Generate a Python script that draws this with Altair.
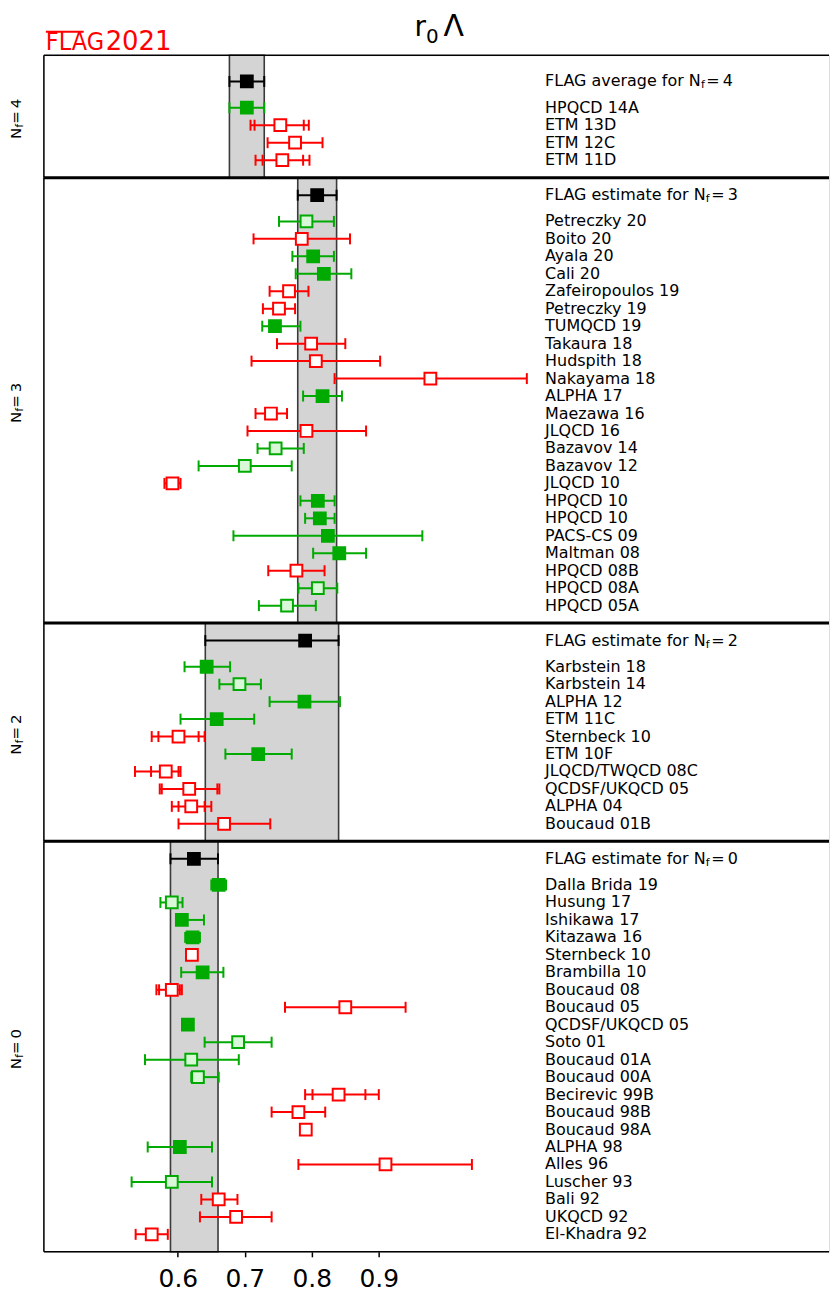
import altair as alt
import pandas as pd

FONT = "DejaVu Sans"

# ---------------- N_f = 4 ----------------
nf4_names = ["HPQCD 14A", "ETM 13D", "ETM 12C", "ETM 11D"]
nf4_val = [0.703, 0.753, 0.775, 0.756]
nf4_lo = [0.677, 0.7085, 0.734, 0.716]
nf4_hi = [0.729, 0.7955, 0.816, 0.7965]
nf4_ilo = [None, 0.7145, None, 0.7265]
nf4_ihi = [None, 0.788, None, 0.787]
nf4_sty = ["gf", "ro", "ro", "ro"]
nf4_flag = [0.703, 0.677, 0.729]

# ---------------- N_f = 3 ----------------
nf3_names = ["Petreczky 20", "Boito 20", "Ayala 20", "Cali 20", "Zafeiropoulos 19",
             "Petreczky 19", "TUMQCD 19", "Takaura 18", "Hudspith 18", "Nakayama 18",
             "ALPHA 17", "Maezawa 16", "JLQCD 16", "Bazavov 14", "Bazavov 12",
             "JLQCD 10", "HPQCD 10", "HPQCD 10", "PACS-CS 09", "Maltman 08",
             "HPQCD 08B", "HPQCD 08A", "HPQCD 05A"]
nf3_val = [0.792, 0.785, 0.802, 0.818, 0.766, 0.751, 0.745, 0.799, 0.806, 0.977,
           0.816, 0.739, 0.792, 0.746, 0.700, 0.592, 0.809, 0.812, 0.824, 0.841,
           0.777, 0.809, 0.763]
nf3_lo = [0.751, 0.713, 0.771, 0.776, 0.737, 0.727, 0.726, 0.748, 0.710, 0.834,
          0.787, 0.716, 0.704, 0.719, 0.631, 0.580, 0.783, 0.790, 0.683, 0.802,
          0.735, 0.780, 0.721]
nf3_hi = [0.833, 0.857, 0.833, 0.859, 0.795, 0.775, 0.783, 0.850, 0.902, 1.121,
          0.845, 0.763, 0.881, 0.788, 0.770, 0.604, 0.834, 0.834, 0.965, 0.881,
          0.819, 0.838, 0.806]
nf3_ilo = [None] * 23
nf3_ihi = [None] * 23
nf3_sty = ["go", "ro", "gf", "gf", "ro", "ro", "gf", "ro", "ro", "ro",
           "gf", "ro", "ro", "go", "go", "ro", "gf", "gf", "gf", "gf",
           "ro", "go", "go"]
nf3_flag = [0.808, 0.779, 0.837]

# ---------------- N_f = 2 ----------------
nf2_names = ["Karbstein 18", "Karbstein 14", "ALPHA 12", "ETM 11C", "Sternbeck 10",
             "ETM 10F", "JLQCD/TWQCD 08C", "QCDSF/UKQCD 05", "ALPHA 04", "Boucaud 01B"]
nf2_val = [0.643, 0.692, 0.789, 0.658, 0.601, 0.720, 0.582, 0.617, 0.620, 0.669]
nf2_lo = [0.610, 0.662, 0.737, 0.604, 0.561, 0.671, 0.536, 0.573, 0.591, 0.601]
nf2_hi = [0.678, 0.724, 0.842, 0.714, 0.640, 0.770, 0.604, 0.662, 0.650, 0.738]
nf2_ilo = [None, None, None, None, 0.571, None, 0.560, 0.576, 0.601, None]
nf2_ihi = [None, None, None, None, 0.631, None, 0.601, 0.659, 0.640, None]
nf2_sty = ["gf", "go", "gf", "gf", "ro", "gf", "ro", "ro", "ro", "ro"]
nf2_flag = [0.790, 0.641, 0.840]

# ---------------- N_f = 0 ----------------
nf0_names = ["Dalla Brida 19", "Husung 17", "Ishikawa 17", "Kitazawa 16", "Sternbeck 10",
             "Brambilla 10", "Boucaud 08", "Boucaud 05", "QCDSF/UKQCD 05", "Soto 01",
             "Boucaud 01A", "Boucaud 00A", "Becirevic 99B", "Boucaud 98B", "Boucaud 98A",
             "ALPHA 98", "Alles 96", "Luscher 93", "Bali 92", "UKQCD 92", "El-Khadra 92"]
nf0_val = [0.661, 0.591, 0.606, 0.622, 0.621, 0.637, 0.591, 0.850, 0.615, 0.690,
           0.620, 0.630, 0.840, 0.780, 0.791, 0.603, 0.910, 0.591, 0.661, 0.687, 0.561]
nf0_lo = [0.650, 0.574, 0.600, 0.611, 0.618, 0.605, 0.568, 0.760, 0.612, 0.640,
          0.551, 0.620, 0.790, 0.740, 0.788, 0.555, 0.780, 0.531, 0.635, 0.633, 0.537]
nf0_hi = [0.672, 0.607, 0.639, 0.633, 0.624, 0.668, 0.606, 0.940, 0.618, 0.740,
          0.691, 0.661, 0.900, 0.820, 0.794, 0.651, 1.039, 0.651, 0.689, 0.740, 0.585]
nf0_ilo = [None] * 6 + [0.572] + [None] * 5 + [0.801] + [None] * 8
nf0_ihi = [None] * 6 + [0.603] + [None] * 5 + [0.880] + [None] * 8
nf0_sty = ["gf", "go", "gf", "gf", "ro", "gf", "ro", "ro", "gf", "go",
           "go", "go", "ro", "ro", "ro", "gf", "ro", "go", "ro", "ro", "ro"]
nf0_flag = [0.624, 0.589, 0.660]

tick_values = [0.6, 0.7, 0.8, 0.9]

# ---------------- styling ----------------
GREEN = "#00aa00"
LGREEN = "#d8f8d8"
RED = "#ff0000"
STY = ["gf", "go", "ro", "k"]
STROKES = [GREEN, GREEN, RED, "#000000"]
FILLS = [GREEN, LGREEN, "#ffffff", "#000000"]

XMIN = 0.4
PX_PER_UNIT = 672.3
W = 788
XMAX = XMIN + W / PX_PER_UNIT
LABEL_X = 503
ROW_H = 17.54

# DejaVu Sans advance widths (per 1000 em) for composing sub-scripted labels
ADV = {' ': 318, 'A': 684, 'F': 575, 'G': 775, 'L': 557, 'N': 748, 'a': 613, 'e': 615,
       'f': 352, 'g': 635, 'i': 278, 'm': 974, 'o': 612, 'r': 411, 's': 521, 't': 392,
       'v': 592, '=': 838, '0': 636, '2': 636, '3': 636, '4': 636, '\u2009': 200}


def tw(s, size):
    return sum(ADV.get(c, 600) for c in s) / 1000.0 * size


def one():
    return alt.Chart(pd.DataFrame({"k": [0]}))


def panel(names, val, lo, hi, ilo, ihi, sty, flag, nf, word, is_top, is_bottom):
    n = len(names)
    ytop = -1.5 if is_top else -1.0
    ybot = n + 1.5
    H = round((ybot - ytop) * ROW_H)
    df = pd.DataFrame({
        "name": [""] + names,
        "v": [flag[0]] + val,
        "lo": [flag[1]] + lo,
        "hi": [flag[2]] + hi,
        "ilo": [None] + ilo,
        "ihi": [None] + ihi,
        "sty": ["k"] + sty,
        "row": [0.0] + [1.5 + i for i in range(n)],
    })
    caps = pd.concat([
        df[["lo", "row", "sty"]].rename(columns={"lo": "end"}),
        df[["hi", "row", "sty"]].rename(columns={"hi": "end"}),
    ])
    icaps = pd.concat([
        df[["ilo", "row", "sty"]].rename(columns={"ilo": "end"}),
        df[["ihi", "row", "sty"]].rename(columns={"ihi": "end"}),
    ]).dropna()

    xscale = alt.Scale(domain=[XMIN, XMAX], nice=False, zero=False)
    if is_bottom:
        xaxis = alt.Axis(values=tick_values, format=".1f", labelFontSize=25, labelFont=FONT,
                         labelColor="black", tickColor="black", tickSize=5, tickWidth=1.5,
                         domain=False, grid=False, labelPadding=10, title=None)
    else:
        xaxis = None

    def X(field):
        return alt.X(f"{field}:Q", scale=xscale, axis=xaxis, title=None)

    yscale = alt.Scale(domain=[ytop, ybot], reverse=True, nice=False, zero=False)
    Y = alt.Y("row:Q", scale=yscale, axis=None)
    stroke = alt.Stroke("sty:N", scale=alt.Scale(domain=STY, range=STROKES), legend=None)
    fill = alt.Fill("sty:N", scale=alt.Scale(domain=STY, range=FILLS), legend=None)

    band_df = pd.DataFrame({"lo": [flag[1]], "hi": [flag[2]]})
    band = alt.Chart(band_df).mark_rect(fill="#d4d4d4", stroke="#3a3a3a", strokeWidth=1.6).encode(
        x=X("lo"), x2=alt.X2("hi:Q"), y=alt.value(0), y2=alt.value(H))

    bars = alt.Chart(df).mark_rule(strokeWidth=2).encode(
        x=X("lo"), x2=alt.X2("hi:Q"), y=Y, stroke=stroke)
    cap = alt.Chart(caps).mark_rule(strokeWidth=2, yOffset=-5.5, y2Offset=5.5).encode(
        x=X("end"), y=Y, y2=alt.Y2("row:Q"), stroke=stroke)
    layers = [band, bars, cap]
    if len(icaps):
        icap = alt.Chart(icaps).mark_rule(strokeWidth=2, yOffset=-5.5, y2Offset=5.5).encode(
            x=X("end"), y=Y, y2=alt.Y2("row:Q"), stroke=stroke)
        layers.append(icap)
    pts = alt.Chart(df).mark_point(shape="square", filled=True, size=140, strokeWidth=2,
                                   opacity=1).encode(x=X("v"), y=Y, fill=fill, stroke=stroke)
    layers.append(pts)

    labels = alt.Chart(df.iloc[1:]).mark_text(align="left", baseline="middle", fontSize=16,
                                              font=FONT, color="black").encode(
        x=alt.value(LABEL_X), y=Y, text="name:N")
    layers.append(labels)

    # FLAG label with subscript
    ta = f"FLAG {word} for N"
    wa = tw(ta, 16)
    fl = pd.DataFrame({"row": [0.0], "ta": [ta], "tf": ["f"], "tc": ["=\u2009" + nf]})
    layers.append(alt.Chart(fl).mark_text(align="left", baseline="middle", fontSize=16,
                                          font=FONT, color="black").encode(
        x=alt.value(LABEL_X), y=Y, text="ta:N"))
    layers.append(alt.Chart(fl).mark_text(align="left", baseline="middle", fontSize=11, dy=4,
                                          font=FONT, color="black").encode(
        x=alt.value(LABEL_X + wa + 0.3), y=Y, text="tf:N"))
    layers.append(alt.Chart(fl).mark_text(align="left", baseline="middle", fontSize=16,
                                          font=FONT, color="black").encode(
        x=alt.value(LABEL_X + wa + 0.3 + tw("f", 11) + 1.5), y=Y, text="tc:N"))

    # rotated N_f label on the left
    fs = 15
    wn = tw("N", fs)
    wf = tw("f", 10)
    tc = "\u2009=\u2009" + nf
    L = wn + 0.3 + wf + 0.3 + tw(tc, fs)
    y0 = H / 2 + L / 2 + 1
    nfl = pd.DataFrame({"a": ["N"], "b": ["f"], "c": [tc]})
    layers.append(alt.Chart(nfl).mark_text(angle=270, align="left", baseline="alphabetic",
                                           fontSize=fs, font=FONT, color="black").encode(
        x=alt.value(-22.5), y=alt.value(y0), text="a:N"))
    layers.append(alt.Chart(nfl).mark_text(angle=270, align="left", baseline="alphabetic",
                                           fontSize=10, font=FONT, color="black").encode(
        x=alt.value(-21), y=alt.value(y0 - wn - 0.3), text="b:N"))
    layers.append(alt.Chart(nfl).mark_text(angle=270, align="left", baseline="alphabetic",
                                           fontSize=fs, font=FONT, color="black").encode(
        x=alt.value(-22.5), y=alt.value(y0 - wn - 0.3 - wf - 0.3), text="c:N"))

    # frame: left edge, top edge, bottom edge on the last panel
    layers.append(one().mark_rule(strokeWidth=1.5, color="black").encode(
        x=alt.value(0), y=alt.value(0), y2=alt.value(H)))
    layers.append(one().mark_rule(strokeWidth=1.5 if is_top else 3, color="black").encode(
        x=alt.value(0), x2=alt.value(W), y=alt.value(0)))
    if is_bottom:
        layers.append(one().mark_rule(strokeWidth=1.5, color="black").encode(
            x=alt.value(0), x2=alt.value(W), y=alt.value(H)))

    if is_top:
        # figure title r_0 Lambda
        layers.append(one().mark_text(align="left", baseline="alphabetic", fontSize=28,
                                      font=FONT, color="black", text="r").encode(
            x=alt.value(372), y=alt.value(-19)))
        layers.append(one().mark_text(align="left", baseline="alphabetic", fontSize=20,
                                      font=FONT, color="black", text="0").encode(
            x=alt.value(383.5), y=alt.value(-12.5)))
        layers.append(one().mark_text(align="left", baseline="alphabetic", fontSize=30,
                                      font=FONT, color="black", text="\u039b").encode(
            x=alt.value(401), y=alt.value(-19)))
        # FLAG 2021 logo
        layers.append(one().mark_text(align="left", baseline="alphabetic", fontSize=25,
                                      font="DejaVu Sans Condensed, Liberation Sans Narrow, DejaVu Sans",
                                      color=RED, text="FLAG").encode(
            x=alt.value(2), y=alt.value(-5.5)))
        layers.append(one().mark_text(align="left", baseline="alphabetic", fontSize=26,
                                      font=FONT, color=RED, text="2021").encode(
            x=alt.value(62), y=alt.value(-5.5)))
        layers.append(one().mark_rule(strokeWidth=2, color=RED).encode(
            x=alt.value(2), x2=alt.value(40), y=alt.value(-23.5)))

    return alt.layer(*layers).properties(width=W, height=H)


p4 = panel(nf4_names, nf4_val, nf4_lo, nf4_hi, nf4_ilo, nf4_ihi, nf4_sty, nf4_flag,
           "4", "average", True, False)
p3 = panel(nf3_names, nf3_val, nf3_lo, nf3_hi, nf3_ilo, nf3_ihi, nf3_sty, nf3_flag,
           "3", "estimate", False, False)
p2 = panel(nf2_names, nf2_val, nf2_lo, nf2_hi, nf2_ilo, nf2_ihi, nf2_sty, nf2_flag,
           "2", "estimate", False, False)
p0 = panel(nf0_names, nf0_val, nf0_lo, nf0_hi, nf0_ilo, nf0_ihi, nf0_sty, nf0_flag,
           "0", "estimate", False, True)

chart = alt.vconcat(p4, p3, p2, p0, spacing=0, bounds="flush").properties(
    padding={"left": 0, "top": 1, "right": 0, "bottom": 2}
).configure_view(stroke=None).configure(font=FONT)

chart.save("out.html", embed_options={"renderer": "svg", "actions": False})
